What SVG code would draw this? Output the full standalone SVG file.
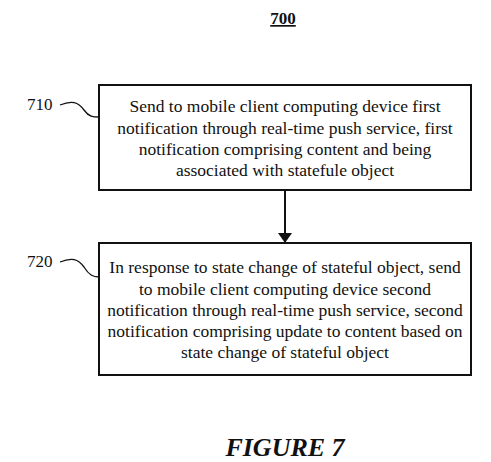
<svg xmlns="http://www.w3.org/2000/svg" width="491" height="462" viewBox="0 0 491 462">
<defs>
<style>
.t{font-family:"Liberation Serif","Times New Roman",serif;font-size:17.5px;fill:#111;text-anchor:middle}
.lbl{font-family:"Liberation Serif","Times New Roman",serif;font-size:17px;fill:#111}
.box{fill:#fff;stroke:#111;stroke-width:2}
.ln{fill:none;stroke:#111;stroke-width:1.3}
</style>
<marker id="ah" markerWidth="10" markerHeight="14" refX="9" refY="7" orient="auto" markerUnits="userSpaceOnUse">
<path d="M0,0 L10,7 L0,14 Z" fill="#111"/>
</marker>
</defs>
<rect width="491" height="462" fill="#fff"/>
<text x="283" y="24" font-family="Liberation Serif, serif" font-size="17" font-weight="bold" text-anchor="middle" fill="#111" text-decoration="underline">700</text>
<g id="connectors">
<line x1="285" y1="191" x2="285" y2="242" stroke="#111" stroke-width="2" marker-end="url(#ah)"/>
</g>
<g id="n710">
<rect class="box" x="99" y="85" width="372" height="105"/>
<text class="t" x="285" y="112">Send to mobile client computing device first</text>
<text class="t" x="285" y="134">notification through real-time push service, first</text>
<text class="t" x="285" y="155">notification comprising content and being</text>
<text class="t" x="285" y="176">associated with statefule object</text>
<text class="lbl" x="27" y="110">710</text>
<path class="ln" d="M60,105 C72,100 78,102 84,110 C89,117 93,117 99,117"/>
</g>
<g id="n720">
<rect class="box" x="99" y="243" width="372" height="132"/>
<text class="t" x="285" y="273">In response to state change of stateful object, send</text>
<text class="t" x="285" y="295">to mobile client computing device second</text>
<text class="t" x="285" y="316">notification through real-time push service, second</text>
<text class="t" x="285" y="337">notification comprising update to content based on</text>
<text class="t" x="285" y="358">state change of stateful object</text>
<text class="lbl" x="27" y="267">720</text>
<path class="ln" d="M60,262 C72,257 78,259 84,267 C89,275 93,277 99,277"/>
</g>
<text x="285" y="456" font-family="Liberation Serif, serif" font-size="26" font-weight="bold" font-style="italic" text-anchor="middle" fill="#111">FIGURE 7</text>
</svg>
